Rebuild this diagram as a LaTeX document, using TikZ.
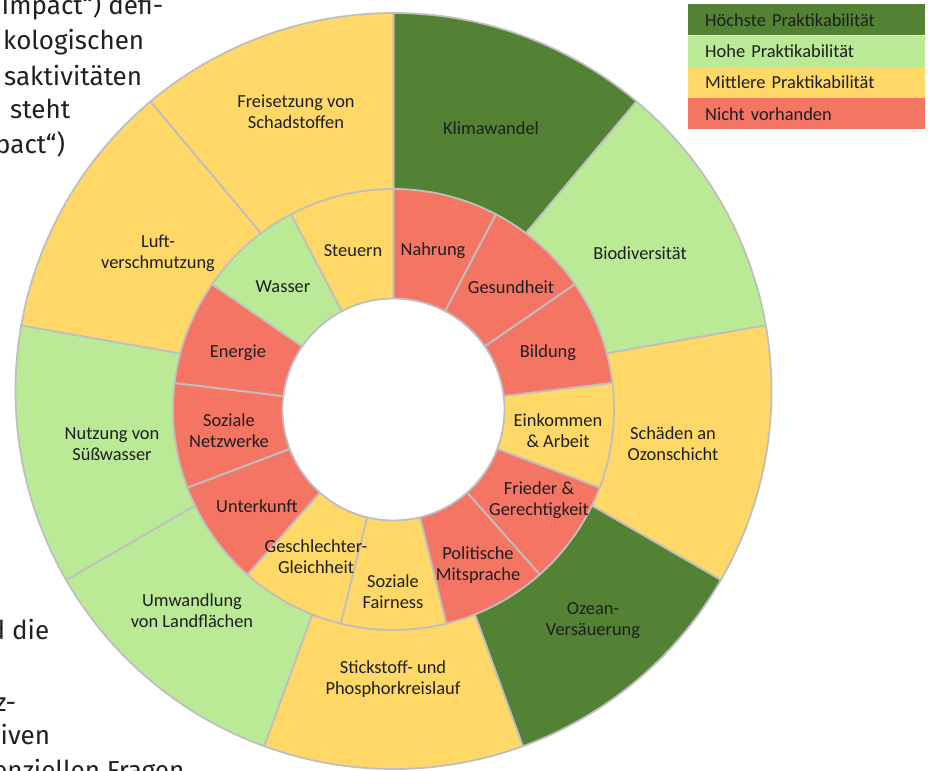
\documentclass[tikz,border=0pt]{standalone}
\usepackage{fontspec}
\setmainfont{Carlito}
\newfontfamily\bodyfont{Fira Sans}
\usepackage{xcolor}
\usepackage{tikz}
\usetikzlibrary{positioning}
\definecolor{hiGreen}{RGB}{84,130,53}
\definecolor{loGreen}{RGB}{187,234,150}
\definecolor{midYellow}{RGB}{255,216,104}
\definecolor{notRed}{RGB}{245,117,101}
\definecolor{lineGray}{RGB}{191,191,191}
\definecolor{textDark}{RGB}{30,30,30}
\definecolor{bodyDark}{RGB}{35,31,32}

\begin{document}
\begin{tikzpicture}[x=1pt, y=1pt,
    sector/.style={draw=lineGray, line width=1.8pt, line join=round},
    seglabel/.style={align=center, text=textDark, inner sep=0pt,
        font=\fontsize{18.4}{21}\selectfont},
    legbox/.style={anchor=north west, minimum height=31pt, text width=203pt,
        inner xsep=17pt, inner ysep=0pt, align=left, text=textDark,
        font=\fontsize{18.4}{21}\selectfont},
    bodytext/.style={anchor=base west, inner sep=0pt, text=bodyDark,
        font=\bodyfont\fontsize{26}{35}\selectfont}]
    \useasboundingbox (0,0) rectangle (930,-771);

    % text of the page behind the chart
    \node[bodytext] (txtA) at (1.5,-14.5) {Impact“) defi-};
    \node[bodytext] (txtB) at (3,-49.8) {kologischen};
    \node[bodytext] (txtC) at (4,-85) {saktivitäten};
    \node[bodytext] (txtD) at (10,-118.5) {steht};
    \node[bodytext] (txtE) at (-5,-153.3) {pact“)};
    \node[bodytext] (txtF) at (-10.5,-639) {d die};
    \node[bodytext] (txtG) at (-5,-711) {z-};
    \node[bodytext] (txtH) at (0.5,-744) {iven};
    \node[bodytext] (txtI) at (-7,-779) {enziellen Fragen};

    % centres of the two rings
    \coordinate (oc) at (393.5,-391);
    \coordinate (ic) at (393.5,-409.5);

    % outer ring: planetary boundaries
    \foreach \a/\b/\c in {90/50/hiGreen, 50/10/loGreen, 10/-30/midYellow,
        -30/-70/hiGreen, -70/-110/midYellow, -110/-150/loGreen,
        -150/-190/loGreen, 170/130/midYellow, 130/90/midYellow}
        \filldraw[sector, fill=\c] (oc) -- ++(\a:378)
            arc[start angle=\a, end angle=\b, radius=378] -- cycle;

    % inner ring: social foundation
    \foreach \c [count=\k from 0] in {notRed, notRed, notRed, midYellow, notRed,
        notRed, midYellow, midYellow, notRed, notRed, notRed, loGreen, midYellow}
        \filldraw[sector, fill=\c] (ic) -- ++({90-\k*360/13}:220.5)
            arc[start angle={90-\k*360/13}, end angle={90-(\k+1)*360/13}, radius=220.5] -- cycle;
    \filldraw[sector, fill=white] (ic) circle[radius=111];

    % outer labels
    \node[seglabel] (freisetzung) at (296,-112) {Freisetzung von\\Schadstoffen};
    \node[seglabel] (klima) at (491,-128) {Klimawandel};
    \node[seglabel] (biodiv) at (640,-253) {Biodiversität};
    \node[seglabel] (ozon) at (673,-444) {Schäden an\\Ozonschicht};
    \node[seglabel] (ozean) at (593,-621) {Ozean-\\Versäuerung};
    \node[seglabel] (stickstoff) at (393,-679) {Stickstoff- und\\Phosphorkreislauf};
    \node[seglabel] (umwandlung) at (192,-611) {Umwandlung\\von Landflächen};
    \node[seglabel] (suesswasser) at (112,-444) {Nutzung von\\Süßwasser};
    \node[seglabel] (luft) at (158,-253) {Luft-\\verschmutzung};

    % inner labels
    \node[seglabel] (nahrung) at (433,-251) {Nahrung};
    \node[seglabel] (gesundheit) at (511,-287) {Gesundheit};
    \node[seglabel] (bildung) at (548,-353) {Bildung};
    \node[seglabel] (einkommen) at (558,-431) {Einkommen\\\& Arbeit};
    \node[seglabel] (frieden) at (539,-500) {Frieder \&\\Gerechtigkeit};
    \node[seglabel] (mitsprache) at (478,-565.5) {Politische\\Mitsprache};
    \node[seglabel] (fairness) at (393,-591.5) {Soziale\\Fairness};
    \node[seglabel] (gleichheit) at (316,-556.5) {Geschlechter-\\Gleichheit};
    \node[seglabel] (unterkunft) at (257,-506) {Unterkunft};
    \node[seglabel] (netzwerke) at (229,-430.5) {Soziale\\Netzwerke};
    \node[seglabel] (energie) at (238,-353) {Energie};
    \node[seglabel] (wasser) at (283,-287) {Wasser};
    \node[seglabel] (steuern) at (353,-251) {Steuern};

    % legend
    \node[legbox, fill=hiGreen] (leg1) at (688,-4) {Höchste Praktikabilität};
    \node[legbox, fill=loGreen, below=0pt of leg1.south west, anchor=north west] (leg2) {Hohe Praktikabilität};
    \node[legbox, fill=midYellow, below=0pt of leg2.south west, anchor=north west] (leg3) {Mittlere Praktikabilität};
    \node[legbox, fill=notRed, below=0pt of leg3.south west, anchor=north west] (leg4) {Nicht vorhanden};
\end{tikzpicture}
\end{document}
